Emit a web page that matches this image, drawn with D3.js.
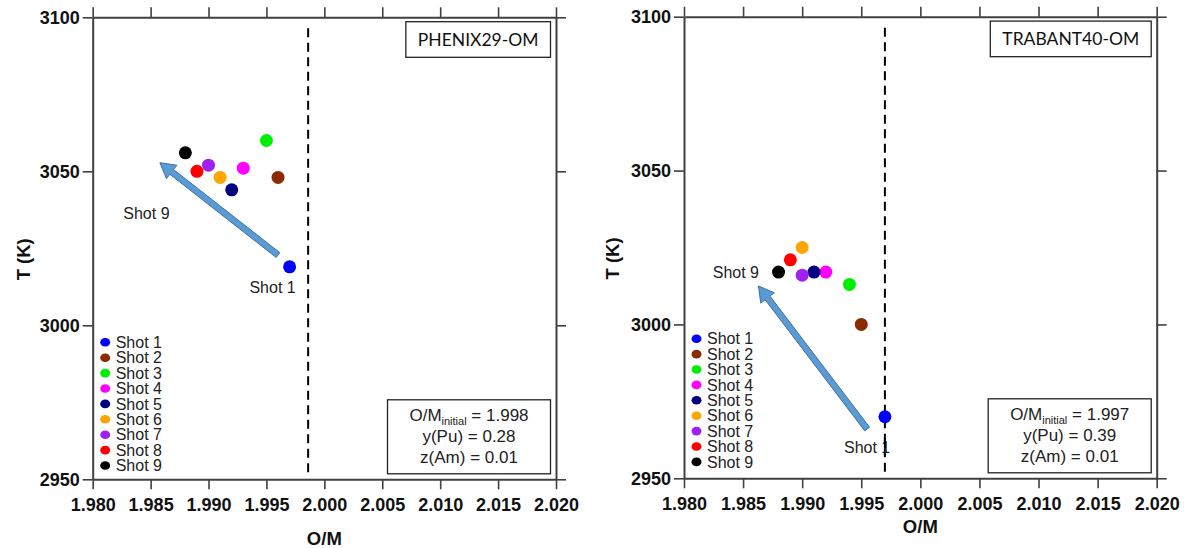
<!DOCTYPE html>
<html><head><meta charset="utf-8">
<script src="https://cdn.jsdelivr.net/npm/d3@7"></script>
<style>body{margin:0;background:#fff}svg{display:block}</style>
</head><body><svg id="c" width="1188" height="548"></svg>
<script>
// ---------- data ----------
const shots = ["Shot 1","Shot 2","Shot 3","Shot 4","Shot 5","Shot 6","Shot 7","Shot 8","Shot 9"];
const shotColors = ["#0000ff","#8b2a00","#00ee00","#ff00ff","#000080","#ffa500","#a020f0","#ff0000","#000000"];
const xTicks = [1.980,1.985,1.990,1.995,2.000,2.005,2.010,2.015,2.020];
const yTicks = [2950,3000,3050,3100];

const phenixOM = [1.997,1.996,1.995,1.993,1.992,1.991,1.990,1.989,1.988];
const phenixT  = [3019,3048,3060,3051,3044,3048,3052,3050,3056];
const trabantOM = [1.997,1.995,1.994,1.992,1.991,1.990,1.990,1.989,1.988];
const trabantT  = [2970,3000,3013,3017,3017,3025,3016,3021,3017];

const refLineOM = [1.9986, 1.997];          // dashed vertical lines
const arrowFrom = [[1.9960,3022.8],[1.9955,2966.0]];
const arrowTo   = [[1.9858,3052.8],[1.9863,3012.5]];
const panelTitles = ["PHENIX29-OM","TRABANT40-OM"];
const omInitial = ["1.998","1.997"];
const yPu = ["0.28","0.39"];
const zAm = ["0.01","0.01"];
const shot9Label = [[1.98264,3034.5],[1.98243,3015.0]];
const shot1Label = [[1.99353,3010.6],[1.99354,2958.1]];

// ---------- layout ----------
const panels = [
  {x0:92.7, x1:556, yT:17.3, yB:479.3, om:phenixOM, t:phenixT, xTitleY:545, yTitleX:30, legendY:342.3},
  {x0:684, x1:1156.7, yT:16.7, yB:478.3, om:trabantOM, t:trabantT, xTitleY:533, yTitleX:619, legendY:338.7}
];
const AX = "#404040";
const sans = "'Liberation Sans', Arial, sans-serif";
const svg = d3.select("#c");

panels.forEach((p,i)=>{
  const x = d3.scaleLinear().domain([1.980,2.020]).range([p.x0,p.x1]);
  const y = d3.scaleLinear().domain([2950,3100]).range([p.yB,p.yT]);
  const g = svg.append("g");

  // axes on four sides, outward ticks
  const mk = (ax)=>ax.tickSizeOuter(0).tickSizeInner(10).tickPadding(3);
  const bottom = g.append("g").attr("transform",`translate(0,${p.yB})`)
    .call(mk(d3.axisBottom(x).tickValues(xTicks).tickFormat(d3.format(".3f"))));
  const top = g.append("g").attr("transform",`translate(0,${p.yT})`)
    .call(mk(d3.axisTop(x).tickValues(xTicks).tickFormat("")));
  const left = g.append("g").attr("transform",`translate(${p.x0},0)`)
    .call(mk(d3.axisLeft(y).tickValues(yTicks).tickFormat(d3.format("d"))));
  const right = g.append("g").attr("transform",`translate(${p.x1},0)`)
    .call(mk(d3.axisRight(y).tickValues(yTicks).tickFormat("")));
  [bottom,top,left,right].forEach(a=>{
    a.selectAll("path.domain").attr("stroke",AX).attr("stroke-width",2);
    a.selectAll(".tick line").attr("stroke",AX).attr("stroke-width",1.6);
    a.selectAll("text").attr("fill","#111").attr("font-family",sans).attr("font-weight","bold");
  });
  bottom.selectAll("text").attr("font-size",18).attr("dy","1.05em");
  left.selectAll("text").attr("font-size",18);

  // axis titles
  g.append("text").attr("x",(p.x0+p.x1)/2).attr("y",p.xTitleY).attr("text-anchor","middle")
    .attr("font-family",sans).attr("font-weight","bold").attr("font-size",18.5).attr("fill","#111").text("O/M");
  g.append("text").attr("transform",`translate(${p.yTitleX},${(p.yT+p.yB)/2 + 11}) rotate(-90)`)
    .attr("text-anchor","middle").attr("font-family",sans).attr("font-weight","bold")
    .attr("font-size",18.5).attr("fill","#111").text("T (K)");

  // dashed reference line
  g.append("line").attr("x1",x(refLineOM[i])).attr("x2",x(refLineOM[i]))
    .attr("y1",p.yT+11).attr("y2",p.yB-6)
    .attr("stroke","#000").attr("stroke-width",2).attr("stroke-dasharray","9,5.5");

  // arrow
  const [ax1,ay1] = [x(arrowFrom[i][0]), y(arrowFrom[i][1])];
  const [ax2,ay2] = [x(arrowTo[i][0]), y(arrowTo[i][1])];
  const dx=ax2-ax1, dy=ay2-ay1, L=Math.hypot(dx,dy), ux=dx/L, uy=dy/L, nx=-uy, ny=ux;
  const sw=3, hw=8.5, hl=15;
  const bx=ax2-ux*hl, by=ay2-uy*hl;
  const pts=[[ax1+nx*sw,ay1+ny*sw],[bx+nx*sw,by+ny*sw],[bx+nx*hw,by+ny*hw],[ax2,ay2],
             [bx-nx*hw,by-ny*hw],[bx-nx*sw,by-ny*sw],[ax1-nx*sw,ay1-ny*sw]];
  g.append("path").attr("d","M"+pts.map(q=>q.join(",")).join("L")+"Z")
    .attr("fill","#5b9bd5").attr("stroke","#41719c").attr("stroke-width",1);

  // annotation labels
  [[shot9Label[i],"Shot 9"],[shot1Label[i],"Shot 1"]].forEach(([pos,txt])=>{
    g.append("text").attr("x",x(pos[0])).attr("y",y(pos[1]))
      .attr("font-family",sans).attr("font-size",16).attr("fill","#222").text(txt);
  });
  if(i===1){
    // dashed line overlays the "Shot 1" text in the right panel
    g.append("line").attr("x1",x(refLineOM[i])).attr("x2",x(refLineOM[i]))
      .attr("y1",y(shot1Label[i][1])-14).attr("y2",y(shot1Label[i][1])+2)
      .attr("stroke","#000").attr("stroke-width",2).attr("stroke-dasharray","9,5.5");
  }

  // points
  g.selectAll("circle.pt").data(shots).join("circle").attr("class","pt")
    .attr("cx",(d,k)=>x(p.om[k])).attr("cy",(d,k)=>y(p.t[k])).attr("r",6.5)
    .attr("fill",(d,k)=>shotColors[k]);

  // legend
  const lg = g.append("g");
  shots.forEach((s,k)=>{
    const ly = p.legendY + k*15.4;
    lg.append("ellipse").attr("cx",p.x0+12.5).attr("cy",ly).attr("rx",5).attr("ry",4.3).attr("fill",shotColors[k]);
    lg.append("text").attr("x",p.x0+23).attr("y",ly).attr("dy","0.36em")
      .attr("font-family",sans).attr("font-size",16).attr("fill","#222").text(s);
  });

  // title box
  const tb = g.append("g");
  const rect = tb.append("rect");
  const tt = tb.append("text").attr("font-family","Lato, 'Open Sans', sans-serif").attr("font-size",17.5)
    .attr("fill","#111").attr("text-anchor","middle").text(panelTitles[i]);
  const tw = tt.node().getComputedTextLength();
  const bw = tw+24, bh=35.6, bxr=p.x1-5.5, byt=p.yT+4.4;
  rect.attr("x",bxr-bw).attr("y",byt).attr("width",bw).attr("height",bh)
    .attr("fill","#fff").attr("stroke","#222").attr("stroke-width",1.3);
  tt.attr("x",bxr-bw/2).attr("y",byt+bh/2).attr("dy","0.36em");

  // info box
  const iw=163, ih=74, ix=p.x1-5.5-iw, iy=p.yB-5.5-ih;
  g.append("rect").attr("x",ix).attr("y",iy).attr("width",iw).attr("height",ih)
    .attr("fill","#fff").attr("stroke","#222").attr("stroke-width",1.3);
  const cx = ix+iw/2;
  const t1 = g.append("text").attr("x",cx).attr("y",iy+21.4).attr("text-anchor","middle")
    .attr("font-family",sans).attr("font-size",17).attr("fill","#222");
  t1.append("tspan").text("O/M");
  t1.append("tspan").attr("font-size",11).attr("dy",4).text("initial");
  t1.append("tspan").attr("dy",-4).text(" = "+omInitial[i]);
  g.append("text").attr("x",cx).attr("y",iy+42.4).attr("text-anchor","middle")
    .attr("font-family",sans).attr("font-size",17).attr("fill","#222").text("y(Pu) = "+yPu[i]);
  g.append("text").attr("x",cx).attr("y",iy+63).attr("text-anchor","middle")
    .attr("font-family",sans).attr("font-size",17).attr("fill","#222").text("z(Am) = "+zAm[i]);
});
</script></body></html>
